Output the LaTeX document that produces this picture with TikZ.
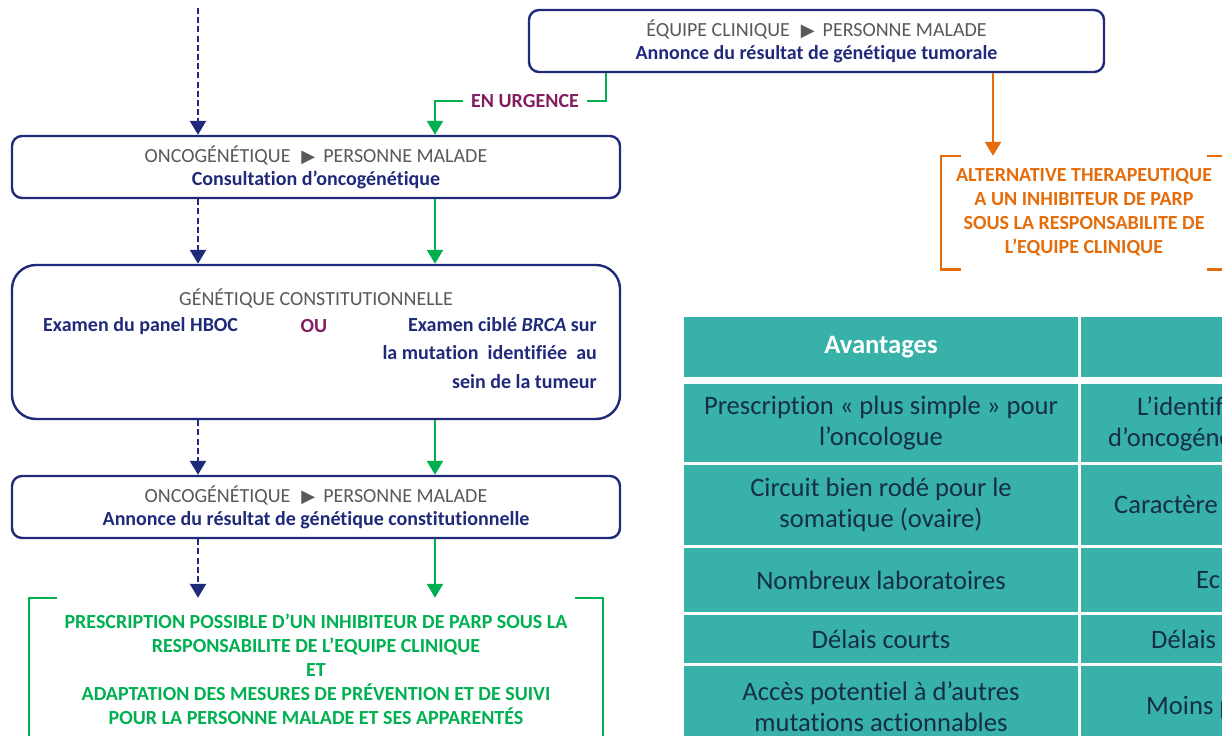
\documentclass[tikz,border=0pt]{standalone}
\usepackage{fontspec}
\setmainfont{Carlito}[Ligatures=NoCommon]
\newfontfamily\symfont{DejaVu Sans}
\usepackage{tikz}
\usetikzlibrary{arrows.meta}

\definecolor{navy}{RGB}{32,42,122}
\definecolor{urgreen}{RGB}{0,176,80}
\definecolor{orangeT}{RGB}{228,108,10}
\definecolor{plum}{RGB}{130,30,95}
\definecolor{greyT}{RGB}{89,89,89}
\definecolor{tealcell}{RGB}{56,178,168}
\definecolor{celltext}{RGB}{20,45,75}

% who speaks to whom, grey line on top of each box
\newcommand{\roles}[2]{\textcolor{greyT}{#1\hspace{5.5pt}{\symfont\fontsize{9}{9}\selectfont ▶}\hspace{4pt}#2}}

\begin{document}
\begin{tikzpicture}[x=0.5pt, y=-0.5pt, line width=1.2pt,
    rolebox/.style={draw=navy, fill=white, rounded corners=5pt, inner sep=0pt,
      align=center, font=\fontsize{10}{11.5}\selectfont},
    boldtxt/.style={inner sep=0pt, font=\fontsize{10}{14.25}\selectfont\bfseries},
    navyflow/.style={draw=navy, dash pattern=on 3pt off 1.6pt,
      -{Triangle[width=8pt,length=7pt]}},
    greenflow/.style={draw=urgreen, -{Triangle[width=8pt,length=7pt]}},
    cell/.style={fill=tealcell, text=celltext, inner sep=0pt, align=center,
      font=\fontsize{13.3}{15.5}\selectfont},
    celltxt/.style={text=celltext, inner sep=0pt, anchor=base west,
      font=\fontsize{13.3}{15.5}\selectfont}]

    \useasboundingbox (0,0) rectangle (1222,735);
    \clip (0,0) rectangle (1222,735);

    % columns of the arrows
    \coordinate (colA) at (198,0);
    \coordinate (colB) at (435,0);
    \coordinate (colC) at (993,0);
    \coordinate (colD) at (606,0);
    \coordinate (topA) at (198,8);

    % draw the boxes
    \node[rolebox, minimum width=287.5pt, minimum height=31pt] (annonceT) at (816.5,41)
      {\roles{ÉQUIPE CLINIQUE}{PERSONNE MALADE}\\
       \textcolor{navy}{\bfseries Annonce du résultat de génétique tumorale}};
    \node[rolebox, minimum width=304pt, minimum height=31pt] (consult) at (316,167)
      {\roles{ONCOGÉNÉTIQUE}{PERSONNE MALADE}\\
       \textcolor{navy}{\bfseries Consultation d’oncogénétique}};
    \node[rolebox, rounded corners=12pt, minimum width=304pt, minimum height=77pt] (constit) at (316,342) {};
    \node[rolebox, minimum width=304pt, minimum height=31pt] (resultat) at (316,507)
      {\roles{ONCOGÉNÉTIQUE}{PERSONNE MALADE}\\
       \textcolor{navy}{\bfseries Annonce du résultat de génétique constitutionnelle}};

    % draw texts of the constitutional test
    \node[inner sep=0pt, text=greyT, font=\fontsize{10}{11.5}\selectfont] (constitT) at (316,298) {GÉNÉTIQUE CONSTITUTIONNELLE};
    \node[boldtxt, text=navy, anchor=west] (hboc) at (42,326) {Examen du panel HBOC};
    \node[boldtxt, text=plum] (ou) at (314,326) {OU};
    \node[boldtxt, text=navy, anchor=north east, align=right] (cible) at (598,316)
      {Examen ciblé \textit{BRCA} sur\\la mutation\ \ identifiée\ \ au\\sein de la tumeur};

    % draw green prescription
    \node[boldtxt, text=urgreen, align=center, font=\fontsize{10}{12}\selectfont\bfseries,
      minimum width=286pt, minimum height=70pt] (presc) at (316,669)
      {PRESCRIPTION POSSIBLE D’UN INHIBITEUR DE PARP SOUS LA\\RESPONSABILITE DE L’EQUIPE CLINIQUE\\ET\\ADAPTATION DES MESURES DE PRÉVENTION ET DE SUIVI\\POUR LA PERSONNE MALADE ET SES APPARENTÉS};
    \draw[urgreen] ([xshift=14pt]presc.north west) -- (presc.north west)
      -- (presc.south west) -- ([xshift=14pt]presc.south west);
    \draw[urgreen] ([xshift=-14pt]presc.north east) -- (presc.north east)
      -- (presc.south east) -- ([xshift=-14pt]presc.south east);

    % draw the two flows
    \draw[navyflow] (topA) -- (consult.north -| colA);
    \foreach \a/\b in {consult/constit, constit/resultat, resultat/presc} {
      \draw[navyflow] (\a.south -| colA) -- (\b.north -| colA);
      \draw[greenflow] (\a.south -| colB) -- (\b.north -| colB);
    }

    % draw urgent branch
    \node[boldtxt, inner sep=3.5pt, text=plum] (urgence) at (525,101) {EN URGENCE};
    \draw[urgreen] (annonceT.south -| colD) |- (urgence.east);
    \draw[greenflow] (urgence.west) -| (consult.north -| colB);

    % draw orange alternative
    \node[boldtxt, text=orangeT, align=center, font=\fontsize{10}{12}\selectfont\bfseries,
      minimum width=142pt, minimum height=55.5pt] (alt) at (1084,212.5)
      {ALTERNATIVE THERAPEUTIQUE\\A UN INHIBITEUR DE PARP\\SOUS LA RESPONSABILITE DE\\L’EQUIPE CLINIQUE};
    \draw[orangeT, line width=1.3pt] ([xshift=10pt]alt.north west) -- (alt.north west)
      -- (alt.south west) -- ([xshift=10pt]alt.south west);
    \draw[orangeT, line width=1.3pt] ([xshift=-10pt]alt.north east) -- (alt.north east)
      -- (alt.south east) -- ([xshift=-10pt]alt.south east);
    \draw[orangeT, line width=1.3pt, -{Triangle[width=8pt,length=7pt]}] (annonceT.south -| colC) -- (alt.north -| colC);

    % draw table
    \node[cell, text=white, font=\fontsize{13.3}{15.5}\selectfont\bfseries,
      minimum width=197pt, minimum height=30pt] (avant) at (881,347) {Avantages};
    \node[cell, minimum width=79.5pt, minimum height=30pt] (inconv) at (1160.5,347) {};
    \foreach \name/\top/\bot/\txt in {
        pres/384/462/{Prescription « plus simple » pour\\l’oncologue},
        circ/465/545/{Circuit bien rodé pour le\\somatique (ovaire)},
        labo/548/612/{Nombreux laboratoires},
        dela/615/663/{Délais courts},
        acces/666/747/{Accès potentiel à d’autres\\mutations actionnables}} {
      \node[cell, minimum width=197pt, minimum height={(\bot-\top)*0.5pt}] (\name) at (881,{(\top+\bot)/2}) {\txt};
      \node[cell, minimum width=79.5pt, minimum height={(\bot-\top)*0.5pt}] (\name-r) at (1160.5,{(\top+\bot)/2}) {};
    }

    % texts of the cut right column
    \node[celltxt] (identif) at (1136,415) {L’identif};
    \node[celltxt] (oncog) at (1107,446) {d’oncogéné};
    \node[celltxt] (caract) at (1113,513) {Caractère};
    \node[celltxt] (ech) at (1195,588) {Ech};
    \node[celltxt] (delaisp) at (1150,648) {Délais p};
    \node[celltxt] (moinsp) at (1145,714) {Moins p};
\end{tikzpicture}
\end{document}
